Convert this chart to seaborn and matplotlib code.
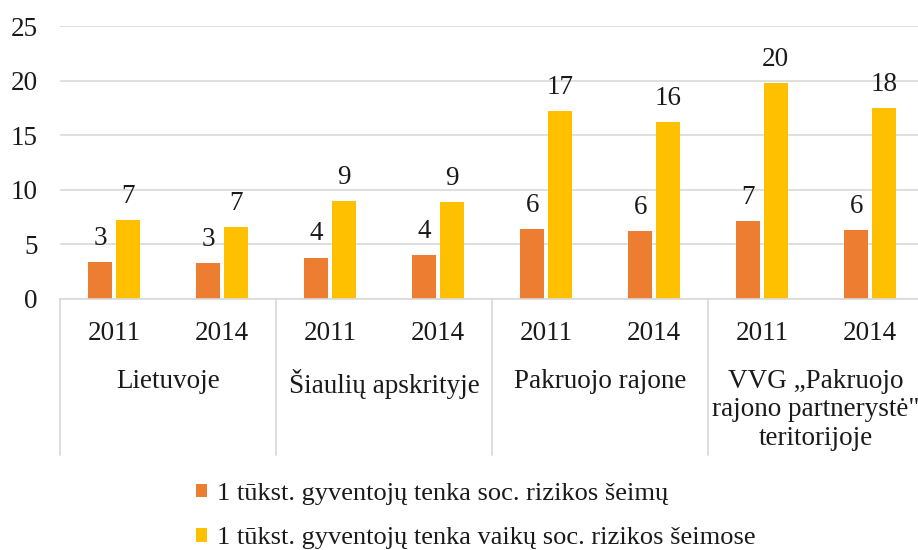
import numpy as np
import pandas as pd
import matplotlib
matplotlib.use("Agg")
import matplotlib.pyplot as plt
import seaborn as sns
from matplotlib.patches import Patch

# duomenys
regions = ["Lietuvoje", "Šiaulių apskrityje", "Pakruojo rajone",
           "VVG „Pakruojo\nrajono partnerystė\"\nteritorijoje"]
years = ["2011", "2014"]
series = ["1 tūkst. gyventojų tenka soc. rizikos šeimų",
          "1 tūkst. gyventojų tenka vaikų soc. rizikos šeimose"]
families = [3.4, 3.3, 3.8, 4.0, 6.4, 6.2, 7.1, 6.3]
children = [7.2, 6.6, 9.0, 8.9, 17.2, 16.2, 19.8, 17.5]
colors = ["#ED7D31", "#FFC000"]

slots = [r + "|" + y for r in regions for y in years]
df = pd.DataFrame({
    "slot": slots * 2,
    "value": families + children,
    "series": [series[0]] * len(slots) + [series[1]] * len(slots),
})

sns.set_style("white")
plt.rcParams["font.family"] = ["Liberation Serif", "DejaVu Serif"]

fig = plt.figure(figsize=(9.18, 5.5), dpi=100)
ax = fig.add_axes([60 / 918, 1 - 299 / 550, 864 / 918, 273 / 550])

sns.barplot(data=df, x="slot", y="value", hue="series", palette=colors,
            width=0.51, gap=0.13, ax=ax, legend=False, linewidth=0,
            saturation=1)

for c in ax.containers:
    ax.bar_label(c, fmt="%.0f", padding=8, fontsize=19.5, color="#1a1a1a")

ax.set_ylim(0, 25)
ax.set_xlim(-0.5, len(slots) - 0.5)
ax.set_yticks([0, 5, 10, 15, 20, 25])
ax.yaxis.grid(True, color="#d9d9d9", linewidth=1.2)
ax.set_axisbelow(True)
for s in ["top", "right", "left"]:
    ax.spines[s].set_visible(False)
ax.spines["bottom"].set_color("#d9d9d9")
ax.spines["bottom"].set_linewidth(1.2)

ax.set_xticks(range(len(slots)))
ax.set_xticklabels([y for r in regions for y in years])
ax.tick_params(axis="x", length=0, pad=16, labelsize=19.5, colors="#1a1a1a")
ax.tick_params(axis="y", length=0, pad=16, labelsize=19.5, colors="#1a1a1a")
ax.set_xlabel("")
ax.set_ylabel("")

trans = ax.get_xaxis_transform()
for i, r in enumerate(regions):
    ax.text(i * 2 + 0.5, -0.255, r, transform=trans, ha="center", va="top",
            fontsize=19.5, linespacing=1.2, color="#1a1a1a")
for i in range(len(regions) + 1):
    ax.plot([i * 2 - 0.5, i * 2 - 0.5], [0, -0.571], transform=trans,
            color="#d9d9d9", linewidth=1.2, clip_on=False)

handles = [Patch(facecolor=c, edgecolor="none") for c in colors]
fig.legend(handles, series, loc="upper left",
           bbox_to_anchor=(196 / 918, 1 - 483 / 550), frameon=False,
           fontsize=19, handlelength=0.4, handleheight=0.4,
           handletextpad=0.4, labelspacing=0.85, borderpad=0,
           borderaxespad=0, labelcolor="#1a1a1a")

fig.savefig("out.png", dpi=100)
